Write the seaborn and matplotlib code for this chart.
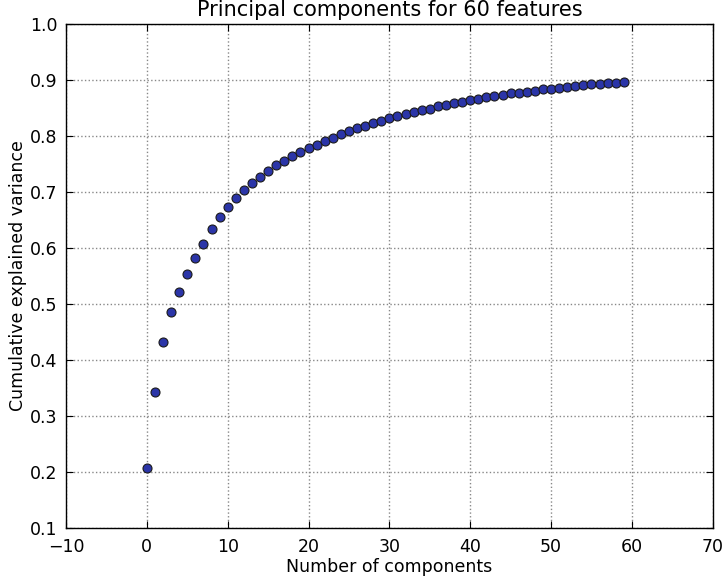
import numpy as np
import pandas as pd
import matplotlib
matplotlib.use('Agg')
import matplotlib.pyplot as plt
import seaborn as sns

# cumulative explained variance (components 0..59)
cum_var = [
    0.207, 0.343, 0.432, 0.486, 0.521, 0.554, 0.582, 0.607, 0.634, 0.655,
    0.673, 0.689, 0.704, 0.716, 0.727, 0.737, 0.748, 0.755, 0.764, 0.771,
    0.779, 0.784, 0.791, 0.796, 0.803, 0.809, 0.814, 0.818, 0.823, 0.827,
    0.832, 0.835, 0.839, 0.842, 0.846, 0.849, 0.854, 0.855, 0.859, 0.861,
    0.864, 0.866, 0.869, 0.871, 0.874, 0.876, 0.877, 0.879, 0.881, 0.883,
    0.884, 0.886, 0.888, 0.889, 0.891, 0.892, 0.893, 0.894, 0.895, 0.897,
]
components = list(range(len(cum_var)))
df = pd.DataFrame({'component': components, 'cum_var': cum_var})

sns.set_style('white')
plt.rcParams['font.family'] = ['DejaVu Sans']
plt.rcParams['xtick.direction'] = 'in'
plt.rcParams['ytick.direction'] = 'in'
plt.rcParams['text.color'] = 'black'
plt.rcParams['axes.labelcolor'] = 'black'
plt.rcParams['xtick.color'] = 'black'
plt.rcParams['ytick.color'] = 'black'

fig = plt.figure(figsize=(7.28, 5.82), dpi=100)
ax = fig.add_axes([0.0907, 0.0928, 0.8883, 0.866])

sns.scatterplot(data=df, x='component', y='cum_var', ax=ax, s=42,
                color='#2b35a8', edgecolor='#1a1a1a', linewidth=0.8, zorder=3)

ax.set_xlim(-10, 70)
ax.set_ylim(0.1, 1.0)
ax.set_xticks(np.arange(-10, 71, 10))
ax.set_yticks(np.arange(0.1, 1.01, 0.1))
ax.set_yticklabels([f'{v:.1f}' for v in np.arange(0.1, 1.01, 0.1)])
ax.grid(True, linestyle=':', color='#888888', linewidth=1.0)
ax.tick_params(axis='both', labelsize=12.5, length=5, color='black',
               top=True, right=True, bottom=True, left=True)
ax.tick_params(axis='x', pad=7)
ax.tick_params(axis='y', pad=6)
for s in ax.spines.values():
    s.set_color('black')
    s.set_linewidth(1.0)

ax.set_title('Principal components for 60 features', fontsize=15, color='black')
ax.set_xlabel('Number of components', fontsize=12.5, labelpad=2)
ax.set_ylabel('Cumulative explained variance', fontsize=12.5, labelpad=2)

fig.savefig('out.png', dpi=100)
